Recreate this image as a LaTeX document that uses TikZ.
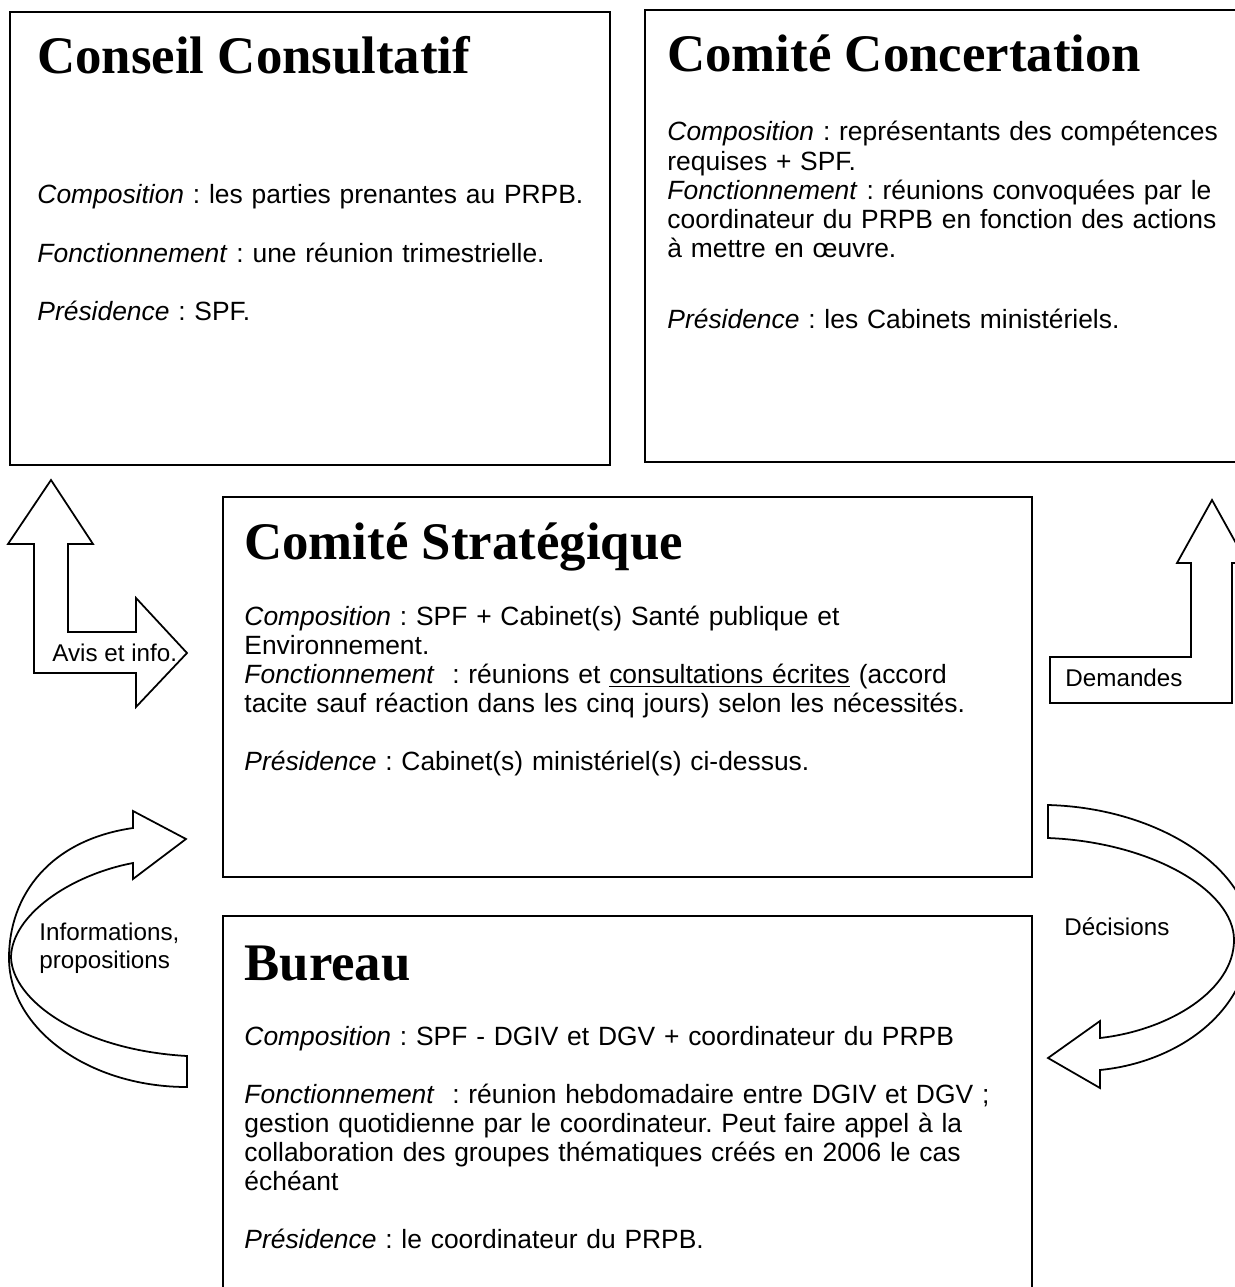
\documentclass[tikz,border=0pt]{standalone}
\usepackage{fontspec}
\setmainfont{Liberation Sans}
\newfontfamily\titlefont{Liberation Serif}
\usepackage{tikz}
\frenchspacing

\begin{document}
\begin{tikzpicture}[x=0.4545pt,y=-0.4545pt,
  boxframe/.style={line width=0.9pt},
  bigarrow/.style={line width=0.8pt,fill=white,line join=miter},
  titletext/.style={anchor=base west,inner sep=0pt,font=\titlefont\bfseries\fontsize{24}{28}\selectfont},
  bodytext/.style={anchor=base west,inner sep=0pt,text width=560pt,align=left,font=\fontsize{12}{13.2}\selectfont},
  labeltext/.style={anchor=west,inner sep=0pt,align=left,font=\fontsize{11}{12.6}\selectfont}]

\useasboundingbox (0,0) rectangle (1234,1287);

\draw[boxframe] (10,12) rectangle (610,465);
\draw[boxframe] (645,10) rectangle (1250,462);
\draw[boxframe] (223,497) rectangle (1032,877);
\draw[boxframe] (223,916) rectangle (1032,1300);

 \node[titletext] (conseil) at (37,74) {Conseil Consultatif};
 \node[bodytext] (conseiltxt) at (37,204) {\textit{Composition} : les parties prenantes au PRPB.\\[\baselineskip]
\textit{Fonctionnement} : une réunion trimestrielle.\\[\baselineskip]
\textit{Présidence} : SPF.};

 \node[titletext] (concertation) at (667,72) {Comité Concertation};
 \node[bodytext] (concertationtxt) at (667,141) {\textit{Composition} : représentants des compétences\\
requises + SPF.\\
\textit{Fonctionnement} : réunions convoquées par le\\
coordinateur du PRPB en fonction des actions\\
à mettre en œuvre.\\[19pt]
\textit{Présidence} : les Cabinets ministériels.};

 \node[titletext] (strategique) at (244,559) {Comité Stratégique};
 \node[bodytext] (strategiquetxt) at (244,625) {\textit{Composition} : SPF + Cabinet(s) Santé publique et\\
Environnement.\\
\textit{Fonctionnement}\ \ : réunions et \underline{consultations écrites} (accord\\
tacite sauf réaction dans les cinq jours) selon les nécessités.\\[\baselineskip]
\textit{Présidence} : Cabinet(s) ministériel(s) ci-dessus.};

 \node[titletext] (bureau) at (244,980) {Bureau};
 \node[bodytext] (bureautxt) at (244,1045) {\textit{Composition} : SPF - DGIV et DGV + coordinateur du PRPB\\[\baselineskip]
\textit{Fonctionnement}\ \ : réunion hebdomadaire entre DGIV et DGV ;\\
gestion quotidienne par le coordinateur. Peut faire appel à la\\
collaboration des groupes thématiques créés en 2006 le cas\\
échéant\\[\baselineskip]
\textit{Présidence} : le coordinateur du PRPB.};

% Avis et info.
\draw[bigarrow] (51,480) -- (93,544) -- (68,544) -- (68,632) -- (136,632) -- (136,598) -- (187,653)
  -- (136,707) -- (136,673) -- (34,673) -- (34,544) -- (8,544) -- cycle;
 \node[labeltext] (avis) at (52,653) {Avis et info.};

% Demandes
\draw[bigarrow] (1212,500) -- (1247,563) -- (1232,563) -- (1232,703) -- (1050,703) -- (1050,657)
  -- (1191,657) -- (1191,563) -- (1177,563) -- cycle;
 \node[labeltext] (demandes) at (1065,678) {Demandes};

% Informations, propositions
\draw[bigarrow] (186,839) -- (133,811) -- (133,828)
  .. controls (50,840) and (9,895) .. (9,958)
  .. controls (9,1029) and (89,1087) .. (187,1087)
  -- (187,1056)
  .. controls (80,1050) and (12,1000) .. (11,957)
  .. controls (12,915) and (70,875) .. (133,863)
  -- (133,879) -- cycle;
 \node[labeltext] (infos) at (39,948) {Informations,\\propositions};

% Decisions
\draw[bigarrow] (1048,805)
  .. controls (1160,808) and (1250,870) .. (1250,935)
  .. controls (1250,1010) and (1180,1062) .. (1100,1070)
  -- (1100,1088) -- (1048,1058) -- (1100,1021) -- (1100,1038)
  .. controls (1170,1030) and (1234,990) .. (1234,940)
  .. controls (1234,890) and (1150,842) .. (1048,838) -- cycle;
 \node[labeltext] (decisions) at (1064,927) {Décisions};

\end{tikzpicture}
\end{document}
